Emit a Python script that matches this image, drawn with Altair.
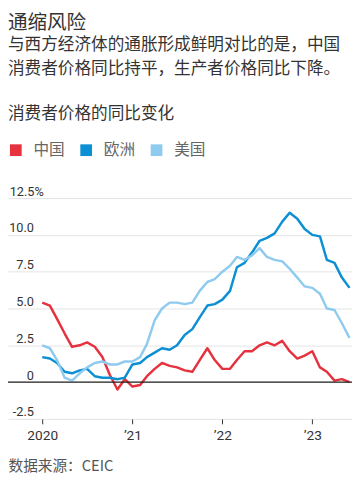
import altair as alt
import pandas as pd

FONT = "Noto Sans CJK SC"
NUM_FONT = "Roboto"

# ---- data ----
months = pd.date_range("2020-01-01", "2023-06-01", freq="MS").strftime("%Y-%m-%d").tolist()

china = [5.4, 5.2, 4.3, 3.3, 2.4, 2.5, 2.7, 2.4, 1.7, 0.5, -0.5, 0.2,
         -0.3, -0.2, 0.4, 0.9, 1.3, 1.1, 1.0, 0.8, 0.7, 1.5, 2.3, 1.5,
         0.9, 0.9, 1.5, 2.1, 2.1, 2.5, 2.7, 2.5, 2.8, 2.1, 1.6, 1.8,
         2.1, 1.0, 0.7, 0.1, 0.2, 0.0]
europe = [1.7, 1.6, 1.3, 0.7, 0.6, 0.8, 0.9, 0.4, 0.3, 0.3, 0.2, 0.3,
          1.2, 1.3, 1.7, 2.0, 2.3, 2.2, 2.5, 3.2, 3.6, 4.4, 5.2, 5.3,
          5.6, 6.2, 7.8, 8.1, 8.8, 9.6, 9.8, 10.1, 10.9, 11.5, 11.1, 10.4,
          10.0, 9.9, 8.3, 8.1, 7.1, 6.4]
usa = [2.5, 2.3, 1.5, 0.3, 0.1, 0.6, 1.0, 1.3, 1.4, 1.2, 1.2, 1.4,
       1.4, 1.7, 2.6, 4.2, 5.0, 5.4, 5.4, 5.3, 5.4, 6.2, 6.8, 7.0,
       7.5, 7.9, 8.5, 8.3, 8.6, 9.1, 8.5, 8.3, 8.2, 7.7, 7.1, 6.5,
       6.4, 6.0, 5.0, 4.9, 4.0, 3.0]

regions = ["中国", "欧洲", "美国"]
colors = ["#e5323e", "#0c8fd3", "#8ecbef"]

y_ticks = [-2.5, 0, 2.5, 5, 7.5, 10, 12.5]
y_labels = ["-2.5", "0", "2.5", "5.0", "7.5", "10.0", "12.5%"]
x_years = [2020, 2021, 2022, 2023]
x_labels = ["2020", "’21", "’22", "’23"]

title = "通缩风险"
subtitle = ["与西方经济体的通胀形成鲜明对比的是，中国",
            "消费者价格同比持平，生产者价格同比下降。"]
chart_label = "消费者价格的同比变化"
source = "数据来源：CEIC"

# ---- build table ----
rows = []
for name, series in zip(regions, [china, europe, usa]):
    for d, v in zip(months, series):
        rows.append({"date": d, "value": v, "region": name})
df = pd.DataFrame(rows)
df["order"] = df["region"].map({"美国": 0, "欧洲": 1, "中国": 2})

def chain(vals, labels, key):
    expr = "''"
    for v, l in zip(reversed(vals), reversed(labels)):
        expr = f"{key} == {v} ? '{l}' : ({expr})"
    return expr

y_expr = chain(y_ticks, y_labels, "datum.value")
x_expr = chain(x_years, x_labels, "year(datum.value)")

x_axis = alt.Axis(
    values=[alt.DateTime(year=y, month=1, date=1) for y in x_years],
    labelExpr=x_expr, grid=False, domain=False, labelOverlap=False,
    ticks=True, tickSize=5, tickColor="#333", tickWidth=1,
    labelFont=NUM_FONT, labelFontSize=14, labelColor="#333", labelPadding=5,
    title=source, titleFont=FONT, titleFontSize=15, titleColor="#555",
    titleFontWeight="normal", titleAnchor="start", titleAlign="left",
    titleBaseline="middle", titleX=0, titleY=48,
)
y_axis = alt.Axis(
    values=y_ticks, tickCount=20, labelExpr=y_expr, title=None, domain=False,
    ticks=False, tickSize=0, grid=True, gridColor="#e3e3e3", gridWidth=1,
    labelOverlap=False, labelFlush=False,
    labelFont=NUM_FONT, labelFontSize=13, labelColor="#333",
    labelAlign="right", labelBaseline="alphabetic", labelOffset=-3,
    labelPadding={"condition": {"test": "datum.value == 12.5", "value": -36},
                  "value": -26},
)

lines = alt.Chart(df).mark_line(strokeWidth=2.5, strokeJoin="round").encode(
    x=alt.X("date:T", axis=x_axis,
            scale=alt.Scale(domain=[alt.DateTime(year=2019, month=8, date=15),
                                    alt.DateTime(year=2023, month=6, date=11)])),
    y=alt.Y("value:Q", axis=y_axis,
            scale=alt.Scale(domain=[-2.5, 12.5], nice=False, zero=False)),
    color=alt.Color("region:N",
                    scale=alt.Scale(domain=regions, range=colors),
                    legend=alt.Legend(
                        title=chart_label, titleFont=FONT, titleFontSize=17,
                        titleColor="#333", titleFontWeight="normal",
                        titleAnchor="start", titleOrient="top", titlePadding=20,
                        titleLimit=400,
                        orient="none", direction="horizontal",
                        legendX=0, legendY=-94,
                        symbolType="square", symbolSize=36, symbolStrokeWidth=6,
                        labelFont=FONT, labelFontSize=16, labelColor="#666",
                        labelOffset=10, columnPadding=6)),
    order=alt.Order("order:Q"),
)

zero = alt.Chart(pd.DataFrame({"v": [0]})).mark_rule(color="#222", strokeWidth=1.2).encode(
    y=alt.Y("v:Q")
)

chart = alt.layer(lines, zero).properties(
    width=352, height=226,
    padding={"left": 0, "top": 189, "right": 0, "bottom": 57},
    autosize=alt.AutoSizeParams(type="none"),
    background="white",
    title=alt.TitleParams(
        text=title, subtitle=subtitle, anchor="start", frame="group",
        font=FONT, fontSize=20, fontWeight="normal", color="#333",
        subtitleFont=FONT, subtitleFontSize=17, subtitleColor="#333",
        subtitleLineHeight=25, subtitlePadding=4, offset=30,
    ),
).configure_view(stroke=None)

chart.save("out.html", embed_options={"renderer": "svg", "actions": False})
